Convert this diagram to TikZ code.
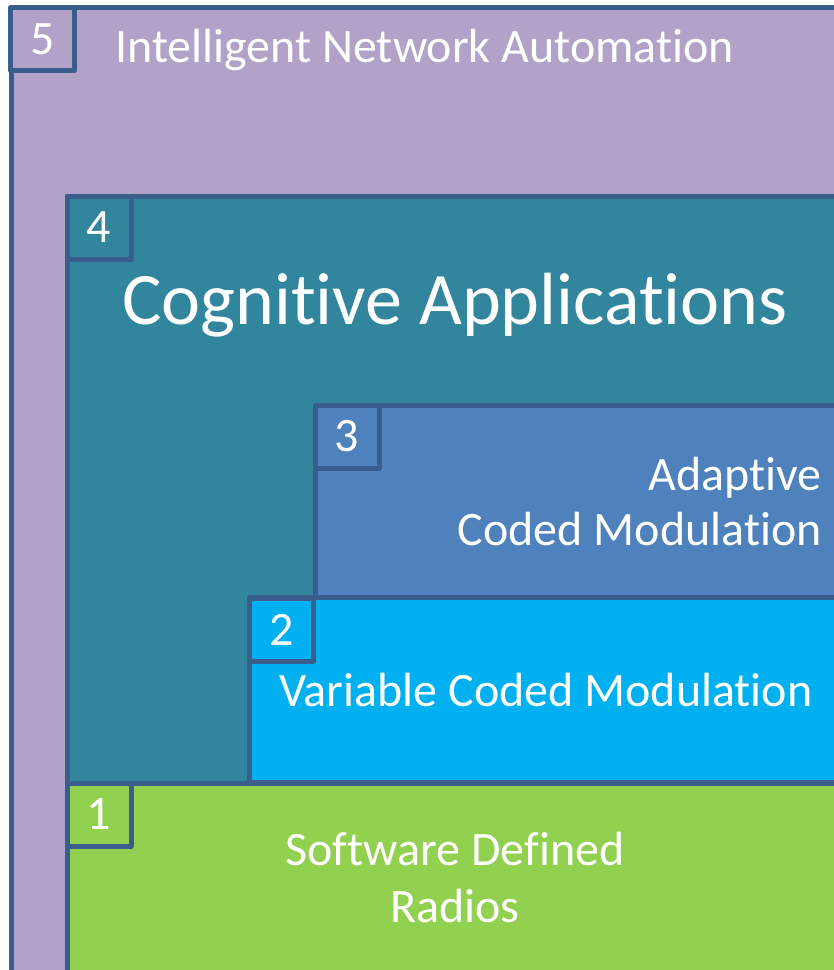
\documentclass[tikz,border=0pt]{standalone}
\usepackage{fontspec}
\setmainfont{Carlito}[Ligatures={NoCommon}]
\definecolor{bordc}{HTML}{3A5E8C}
\definecolor{c5}{HTML}{B3A2C7}
\definecolor{c4}{HTML}{31859C}
\definecolor{c3}{HTML}{4F81BD}
\definecolor{c2}{HTML}{00B0F0}
\definecolor{c1}{HTML}{92D050}
\tikzset{
  layerbox/.style={draw=bordc, line width=5pt, line join=round},
  badge/.style={draw=bordc, line width=5pt, line join=round, rectangle, inner sep=0pt,
    minimum width=64pt, minimum height=63pt, text=white,
    font=\fontsize{48}{57}\selectfont},
  lbl/.style={text=white, inner sep=0pt, font=\fontsize{48}{57}\selectfont},
  biglbl/.style={text=white, inner sep=0pt, font=\fontsize{74}{88}\selectfont},
}
\begin{document}
\begin{tikzpicture}[x=1pt,y=-1pt]
\useasboundingbox (0,0) rectangle (834,970);
\clip (0,0) rectangle (834,970);
\fill[white] (0,0) rectangle (834,970);
% layer 5
\draw[layerbox, fill=c5] (11,7) rectangle (900,1000);
\node[badge, fill=c5] (b5) at (42.5,39) {5};
\node[lbl, anchor=base west] (t5) at (115,62) {Intelligent Network Automation};
% layer 4
\draw[layerbox, fill=c4] (67,196) rectangle (900,783);
\node[badge, fill=c4] (b4) at (99,227.5) {4};
\node[biglbl, anchor=base] (t4) at (455,324) {Cognitive Applications};
% layer 3
\draw[layerbox, fill=c3] (315,405) rectangle (900,597);
\node[badge, fill=c3] (b3) at (347,436.5) {3};
\node[lbl, anchor=base east] (t3a) at (822,490) {Adaptive};
\node[lbl, anchor=base east] (t3b) at (822,545) {Coded Modulation};
% layer 2
\draw[layerbox, fill=c2] (249,597) rectangle (900,782);
\node[badge, fill=c2] (b2) at (281.5,629.5) {2};
\node[lbl, anchor=base] (t2) at (546,706) {Variable Coded Modulation};
% layer 1
\draw[layerbox, fill=c1] (67,783) rectangle (900,1000);
\node[badge, fill=c1] (b1) at (99,814.5) {1};
\node[lbl, anchor=base] (t1a) at (455,865) {Software Defined};
\node[lbl, anchor=base] (t1b) at (455,922) {Radios};
\end{tikzpicture}
\end{document}
